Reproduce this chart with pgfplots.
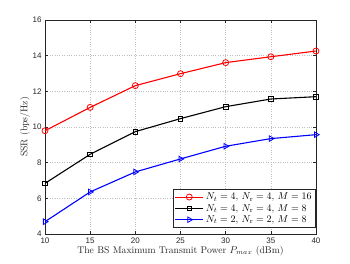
\documentclass[border=0pt]{standalone}
\usepackage{fontspec}
\usepackage{pgfplots}
\pgfplotsset{compat=1.18}
\newfontfamily\ticksf{Liberation Sans}
\definecolor{axgray}{rgb}{0.15,0.15,0.15}
\begin{document}
\begin{tikzpicture}
\begin{axis}[name=ax, at={(0,0)}, anchor=south west,
  scale only axis, width=271pt, height=214pt,
  xmin=10, xmax=40, ymin=4, ymax=16,
  xtick={10,15,...,40}, ytick={4,6,...,16},
  /pgf/number format/assume math mode=true,
  tick label style={font=\ticksf\fontsize{8}{9}\selectfont, text=axgray},
  axis line style={axgray, line width=0.4pt},
  tick style={axgray, line width=0.4pt},
  tick align=inside, major tick length=3pt,
  grid=major, grid style={dotted, gray!50, line width=0.4pt},
  xlabel={The BS Maximum Transmit Power $P_{max}$ (dBm)},
  ylabel={SSR (bps/Hz)},
  label style={font=\fontsize{9.7}{11}\selectfont, text=axgray},
  xlabel style={yshift=4pt},
  ylabel style={yshift=-4pt},
  legend style={at={(0.998,0.03)}, anchor=south east, font=\fontsize{9.8}{11}\selectfont,
    draw=axgray, line width=0.4pt, row sep=-1pt, inner sep=1.5pt},
  legend cell align=left,
  legend image code/.code={\draw[mark repeat=2,mark phase=2] plot coordinates {(0pt,0pt) (14pt,0pt) (28pt,0pt)};},
  every axis plot/.append style={line width=1.1pt},
]
\addplot[red, mark=o, mark size=3pt, mark options={line width=0.8pt}] coordinates {
(10,9.79) (15,11.10) (20,12.32) (25,12.99) (30,13.61) (35,13.94) (40,14.26)};
\addlegendentry{$N_t=4$, $N_{\mathrm{r}}=4$, $M=16$}
\addplot[black, mark=square, mark size=2.3pt, mark options={line width=0.8pt}] coordinates {
(10,6.84) (15,8.47) (20,9.74) (25,10.47) (30,11.14) (35,11.57) (40,11.70)};
\addlegendentry{$N_t=4$, $N_{\mathrm{r}}=4$, $M=8$}
\addplot[blue, mark=triangle, mark size=3.2pt, mark options={rotate=-90, line width=0.8pt}] coordinates {
(10,4.69) (15,6.36) (20,7.48) (25,8.21) (30,8.92) (35,9.35) (40,9.57)};
\addlegendentry{$N_t=2$, $N_{\mathrm{r}}=2$, $M=8$}
\end{axis}
\useasboundingbox (ax.south west) ++(-45pt,-29pt) rectangle ++(350pt,263pt);
\end{tikzpicture}
\end{document}
